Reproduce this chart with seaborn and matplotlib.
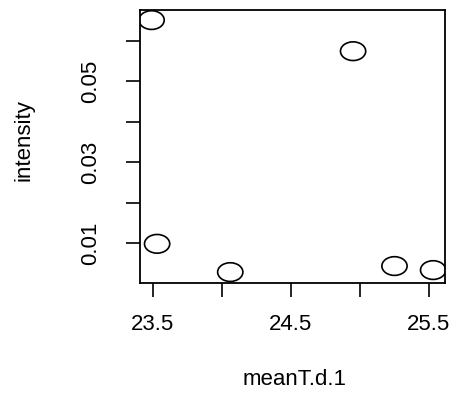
import numpy as np
import pandas as pd
import matplotlib
matplotlib.use("Agg")
import matplotlib.pyplot as plt
from matplotlib.path import Path
from matplotlib.transforms import Affine2D
import seaborn as sns

# Observations
meanT = [23.49, 24.95, 23.53, 24.06, 25.25, 25.53]
intensity = [0.0652, 0.0575, 0.0098, 0.0028, 0.0043, 0.0033]

x_ticks = [23.5, 24.0, 24.5, 25.0, 25.5]
x_tick_labels = ["23.5", "", "24.5", "", "25.5"]
y_ticks = [0.01, 0.02, 0.03, 0.04, 0.05, 0.06]
y_tick_labels = ["0.01", "", "0.03", "", "0.05", ""]

df = pd.DataFrame({"meanT.d.1": meanT, "intensity": intensity})

sns.set_theme(style="white")
plt.rcParams["font.family"] = ["Liberation Sans", "DejaVu Sans"]

fig = plt.figure(figsize=(4.6, 3.94), dpi=100)
ax = fig.add_axes([140 / 460, 1 - 283 / 394, 305 / 460, 273 / 394])

# open circle, slightly wider than tall
ring = Path.unit_circle().transformed(Affine2D().scale(1.35, 1.0))

sns.scatterplot(data=df, x="meanT.d.1", y="intensity", ax=ax,
                marker=ring, s=330, facecolor="none",
                edgecolor="black", linewidth=1.2)

ax.set_xlim(23.406, 25.616)
ax.set_ylim(0.0001, 0.0677)

ax.set_xticks(x_ticks)
ax.set_xticklabels(x_tick_labels)
ax.set_yticks(y_ticks)
ax.set_yticklabels(y_tick_labels, rotation=90, va="center")

ax.tick_params(axis="both", direction="out", length=10, width=1.2,
               color="black", labelsize=16, labelcolor="black",
               left=True, bottom=True)
ax.tick_params(axis="x", pad=12)
ax.tick_params(axis="y", pad=18)

for sp in ax.spines.values():
    sp.set_visible(True)
    sp.set_color("black")
    sp.set_linewidth(1.3)

ax.set_xlabel("meanT.d.1", fontsize=16, color="black")
ax.set_ylabel("intensity", fontsize=16, color="black")
ax.xaxis.set_label_coords(0.508, -0.315)
ax.yaxis.set_label_coords(-0.345, 0.524)

fig.savefig("out.png", dpi=100, facecolor="white")
